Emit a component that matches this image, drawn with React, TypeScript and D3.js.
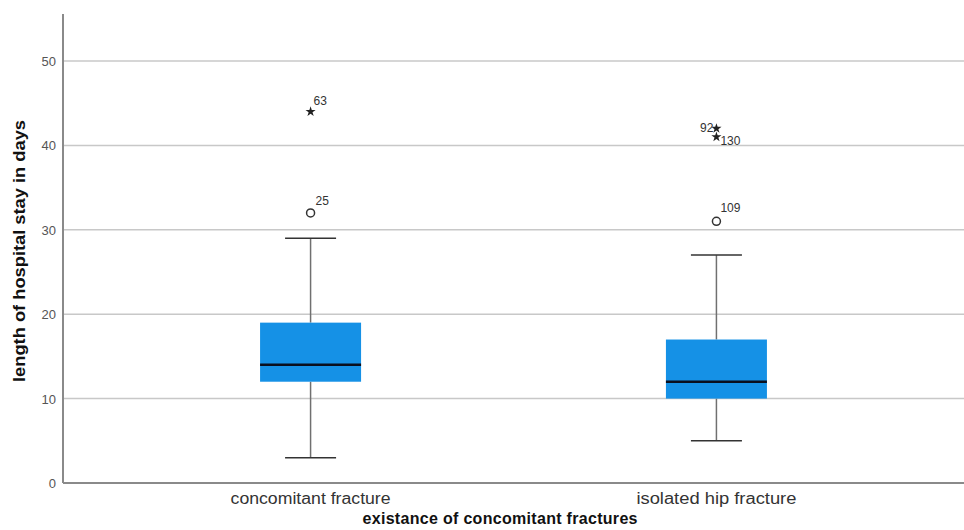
import { useEffect, useRef } from 'react'
import * as d3 from 'd3'

// box statistics per group
const groups = ['concomitant fracture', 'isolated hip fracture']
const whiskerLow = [3, 5]
const q1 = [12, 10]
const median = [14, 12]
const q3 = [19, 17]
const whiskerHigh = [29, 27]

// outliers: group index, value, case id, kind
const outlierGroup = [0, 0, 1, 1, 1]
const outlierValue = [32, 44, 31, 42, 41]
const outlierId = ['25', '63', '109', '92', '130']
const outlierKind = ['mild', 'extreme', 'mild', 'extreme', 'extreme']

const yTicks = [0, 10, 20, 30, 40, 50]

export default function App() {
  const svgRef = useRef<SVGSVGElement>(null)

  useEffect(() => {
    if (!svgRef.current) return
    const svg = d3.select(svgRef.current)
    svg.selectAll('*').remove()

    const width = 964
    const height = 530
    const left = 63
    const right = 964
    const top = 14
    const bottom = 483
    const font = 'Liberation Sans, Arial, sans-serif'

    const x = d3.scalePoint<string>().domain(groups).range([left, right]).padding(0.61)
    const y = d3.scaleLinear().domain([0, 50]).range([bottom, 61])
    const boxW = 101
    const capW = 51

    svg.attr('width', width).attr('height', height)
    svg.append('rect').attr('width', width).attr('height', height).attr('fill', '#fff')

    // gridlines
    svg.append('g')
      .selectAll('line')
      .data(yTicks.filter(d => d > 0))
      .join('line')
      .attr('x1', left)
      .attr('x2', right)
      .attr('y1', d => y(d))
      .attr('y2', d => y(d))
      .attr('stroke', '#c8c8c8')
      .attr('stroke-width', 1.5)

    // axes
    svg.append('line')
      .attr('x1', left).attr('x2', left)
      .attr('y1', top).attr('y2', bottom)
      .attr('stroke', '#8a8a8a').attr('stroke-width', 2)
    svg.append('line')
      .attr('x1', left).attr('x2', right)
      .attr('y1', bottom).attr('y2', bottom)
      .attr('stroke', '#8a8a8a').attr('stroke-width', 2)

    svg.append('g')
      .selectAll('text')
      .data(yTicks)
      .join('text')
      .attr('x', 56)
      .attr('y', d => y(d) + 5)
      .attr('text-anchor', 'end')
      .attr('font-family', font)
      .attr('font-size', 13)
      .attr('fill', '#555')
      .text(d => d)

    // boxes
    const bg = svg.append('g')
    groups.forEach((g, i) => {
      const cx = x(g)!
      bg.append('line')
        .attr('x1', cx).attr('x2', cx)
        .attr('y1', y(whiskerHigh[i])).attr('y2', y(q3[i]))
        .attr('stroke', '#707070').attr('stroke-width', 1.5)
      bg.append('line')
        .attr('x1', cx).attr('x2', cx)
        .attr('y1', y(q1[i])).attr('y2', y(whiskerLow[i]))
        .attr('stroke', '#707070').attr('stroke-width', 1.5)
      ;[whiskerHigh[i], whiskerLow[i]].forEach(v => {
        bg.append('line')
          .attr('x1', cx - capW / 2).attr('x2', cx + capW / 2)
          .attr('y1', y(v)).attr('y2', y(v))
          .attr('stroke', '#333').attr('stroke-width', 1.5)
      })
      bg.append('rect')
        .attr('x', cx - boxW / 2)
        .attr('y', y(q3[i]))
        .attr('width', boxW)
        .attr('height', y(q1[i]) - y(q3[i]))
        .attr('fill', '#1591e6')
      bg.append('line')
        .attr('x1', cx - boxW / 2).attr('x2', cx + boxW / 2)
        .attr('y1', y(median[i])).attr('y2', y(median[i]))
        .attr('stroke', '#0a0f1e').attr('stroke-width', 2.5)
    })

    // outliers
    const star = d3.symbol().type(d3.symbolStar).size(32)
    const labelPlace: Record<string, [number, number, string]> = {
      '25': [5, -8, 'start'],
      '63': [3, -7, 'start'],
      '109': [4, -9, 'start'],
      '92': [-3, 3, 'end'],
      '130': [4, 8, 'start'],
    }
    const og = svg.append('g')
    outlierValue.forEach((v, i) => {
      const cx = x(groups[outlierGroup[i]])!
      const cy = y(v)
      if (outlierKind[i] === 'extreme') {
        og.append('path')
          .attr('d', star()!)
          .attr('transform', `translate(${cx},${cy})`)
          .attr('fill', '#222')
      } else {
        og.append('circle')
          .attr('cx', cx).attr('cy', cy).attr('r', 4)
          .attr('fill', 'none').attr('stroke', '#333').attr('stroke-width', 1.5)
      }
      const [dx, dy, anchor] = labelPlace[outlierId[i]]
      og.append('text')
        .attr('x', cx + dx)
        .attr('y', cy + dy)
        .attr('text-anchor', anchor)
        .attr('font-family', font)
        .attr('font-size', 12)
        .attr('fill', '#333')
        .text(outlierId[i])
    })

    // category labels
    svg.append('g')
      .selectAll('text')
      .data(groups)
      .join('text')
      .attr('x', d => x(d)!)
      .attr('y', 504)
      .attr('text-anchor', 'middle')
      .attr('font-family', font)
      .attr('font-size', 16)
      .attr('fill', '#333')
      .attr('textLength', 160)
      .attr('lengthAdjust', 'spacingAndGlyphs')
      .text(d => d)

    // axis titles
    svg.append('text')
      .attr('x', 500)
      .attr('y', 524)
      .attr('text-anchor', 'middle')
      .attr('font-family', font)
      .attr('font-size', 16)
      .attr('font-weight', 'bold')
      .attr('fill', '#111')
      .attr('textLength', 275)
      .attr('lengthAdjust', 'spacing')
      .text('existance of concomitant fractures')

    svg.append('text')
      .attr('transform', 'translate(25,251) rotate(-90)')
      .attr('text-anchor', 'middle')
      .attr('font-family', font)
      .attr('font-size', 17)
      .attr('font-weight', 'bold')
      .attr('fill', '#111')
      .attr('textLength', 262)
      .attr('lengthAdjust', 'spacingAndGlyphs')
      .text('length of hospital stay in days')
  }, [])

  return (
    <div style={{ position: 'fixed', top: 0, left: 0 }}>
      <svg ref={svgRef} style={{ display: 'block' }}></svg>
    </div>
  )
}
